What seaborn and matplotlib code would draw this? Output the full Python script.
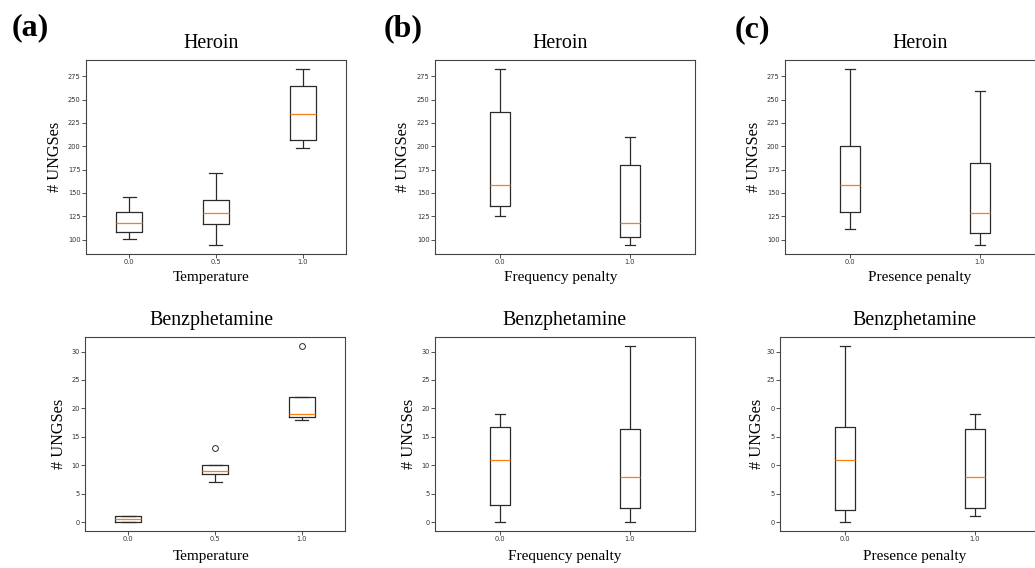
import numpy as np
import pandas as pd
import matplotlib
matplotlib.use("Agg")
import matplotlib.pyplot as plt
import seaborn as sns

# ---------------- data ----------------
temp_levels = ["0.0", "0.5", "1.0"]
penalty_levels = ["0.0", "1.0"]

# Heroin (# UNGSes per run)
heroin_temp_00 = [101, 108, 118, 130, 146]
heroin_temp_05 = [94, 117, 129, 142.5, 171]
heroin_temp_10 = [198, 207, 234.5, 265, 283]
heroin_freq_00 = [125, 136, 158.5, 237, 283]
heroin_freq_10 = [94, 103, 117.5, 180, 210]
heroin_pres_00 = [111, 130, 158.5, 200, 283]
heroin_pres_10 = [94, 107, 129, 182, 259]

# Benzphetamine (# UNGSes per run)
benz_temp_00 = [0, 0, 0, 1, 1, 1]
benz_temp_05 = [7, 8, 9, 9, 10, 10, 13]
benz_temp_10 = [18, 18, 19, 19, 22, 22, 31]
benz_freq_00 = [0, 3, 11, 16.7, 19]
benz_freq_10 = [0, 2.5, 8, 16.4, 31]
benz_pres_00 = [0, 2.2, 11, 16.7, 31]
benz_pres_10 = [1, 2.5, 8, 16.4, 19]

heroin_yticks = [100, 125, 150, 175, 200, 225, 250, 275]
benz_yticks = [0, 5, 10, 15, 20, 25, 30]
benz_ytick_labels_c = ["0", "5", "0", "5", "0", "25", "30"]  # as cropped in the reference

panel_letters = ["(a)", "(b)", "(c)"]
xlabels = ["Temperature", "Frequency penalty", "Presence penalty"]
titles = ["Heroin", "Benzphetamine"]
ylabel = "# UNGSes"


def long_df(levels, groups):
    rows = []
    for lvl, vals in zip(levels, groups):
        for v in vals:
            rows.append((lvl, v))
    return pd.DataFrame(rows, columns=["level", "value"])


# ---------------- figure ----------------
W, H = 1035, 568
fig = plt.figure(figsize=(W / 100, H / 100), dpi=100)
fig.patch.set_facecolor("white")

serif = ["Liberation Serif", "DejaVu Serif"]
line_c = "#2b2b2b"


def add_ax(left_px, top_px, w_px=260, h_px=194):
    return fig.add_axes([left_px / W, (H - top_px - h_px) / H, w_px / W, h_px / H])


panels = [
    # (row, col, left, top, levels, groups, width, title_x, xlabel_y, ylabel_x)
    (0, 0, 86, 60, temp_levels, [heroin_temp_00, heroin_temp_05, heroin_temp_10], 0.3, 0.48, -0.09, -0.09),
    (0, 1, 435, 60, penalty_levels, [heroin_freq_00, heroin_freq_10], 0.15, 0.483, -0.09, -0.094),
    (0, 2, 785, 60, penalty_levels, [heroin_pres_00, heroin_pres_10], 0.15, 0.519, -0.09, -0.09),
    (1, 0, 85, 337, temp_levels, [benz_temp_00, benz_temp_05, benz_temp_10], 0.3, 0.487, -0.098, -0.071),
    (1, 1, 435, 337, penalty_levels, [benz_freq_00, benz_freq_10], 0.15, 0.498, -0.098, -0.071),
    (1, 2, 780, 337, penalty_levels, [benz_pres_00, benz_pres_10], 0.15, 0.518, -0.098, -0.056),
]

for row, col, left, top, levels, groups, width, tx, xly, ylx in panels:
    ax = add_ax(left, top)
    df = long_df(levels, groups)
    sns.boxplot(
        data=df, x="level", y="value", order=levels, ax=ax,
        width=width, fill=False, color=line_c, linewidth=0.9, whis=1.5,
        medianprops=dict(color="#ff7f0e", linewidth=0.9),
        flierprops=dict(marker="o", markersize=4.2, markerfacecolor="none",
                        markeredgecolor=line_c, markeredgewidth=0.7),
    )
    ax.set_facecolor("white")
    ax.grid(False)
    for s in ax.spines.values():
        s.set_visible(True)
        s.set_color("#444444")
        s.set_linewidth(0.8)
    ax.tick_params(axis="both", labelsize=4.8, length=2.6, width=0.6,
                   pad=1.2, colors="#333333")
    if row == 0:
        ax.set_yticks(heroin_yticks)
    else:
        ax.set_yticks(benz_yticks)
        if col == 2:
            ax.set_yticklabels(benz_ytick_labels_c)
    ax.set_title(titles[row], fontsize=14.4, family=serif, x=tx, pad=8.6)
    ax.set_xlabel(xlabels[col], fontsize=11, family=serif)
    ax.set_ylabel(ylabel, fontsize=11.7, family=serif)
    ax.xaxis.set_label_coords(tx, xly)
    ax.yaxis.set_label_coords(ylx, 0.5)

letter_pos = [(12, 27.5), (384, 29), (735, 30)]
for lbl, (xp, yp) in zip(panel_letters, letter_pos):
    fig.text(xp / W, 1 - yp / H, lbl, fontsize=23, fontweight="bold",
             family=serif, ha="left", va="center")

fig.savefig("out.png", dpi=100, facecolor="white")
